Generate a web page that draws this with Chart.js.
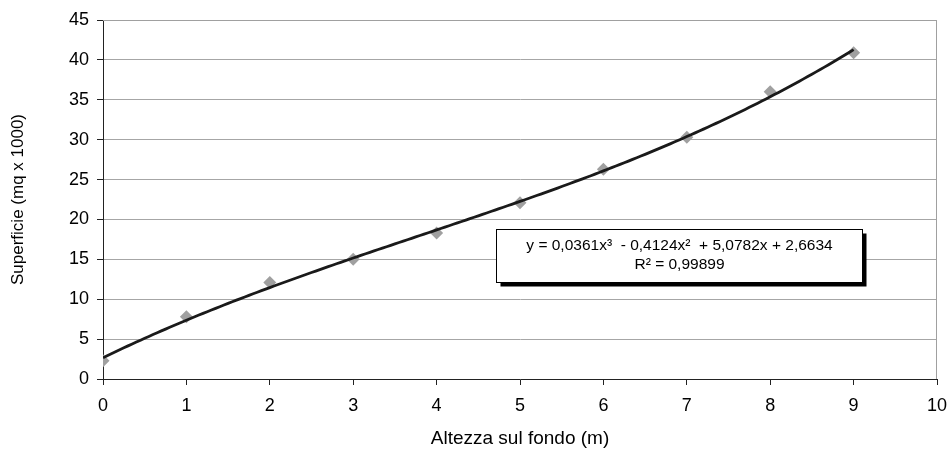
<!DOCTYPE html>
<html>
<head>
<meta charset="utf-8">
<script src="https://cdn.jsdelivr.net/npm/chart.js@4/dist/chart.umd.min.js"></script>
<style>
  html, body { margin: 0; padding: 0; background: #ffffff; }
  #wrap { width: 951px; height: 450px; }
</style>
</head>
<body>
<div id="wrap"><canvas id="c" width="951" height="450"></canvas></div>
<script>
// Measured surface area at each height above the bottom
const heights = [0, 1, 2, 3, 4, 5, 6, 7, 8, 9];
const surface = [2.3, 7.8, 12.1, 15.0, 18.3, 22.1, 26.3, 30.3, 36.0, 40.9];

// Cubic trend line coefficients (x³, x², x, constant) and fit quality
const trendCoeffs = [0.0361, -0.4124, 5.0782, 2.6634];
const rSquared = 0.99899;

// Axis ranges and tick steps
const xTicks = [0, 10, 1];
const yTicks = [0, 45, 5];

const xTitle = 'Altezza sul fondo (m)';
const yTitle = 'Superficie (mq x 1000)';

function trend(x) {
  const [a, b, c, d] = trendCoeffs;
  return ((a * x + b) * x + c) * x + d;
}

// Trend curve sampled across the measured range
const trendPoints = [];
for (let i = 0; i <= 180; i++) {
  const x = heights[0] + (heights[heights.length - 1] - heights[0]) * i / 180;
  trendPoints.push({ x: x, y: trend(x) });
}

const fmt = (v, n) => v.toFixed(n).replace('.', ',');
const eqLine1 = 'y = ' + fmt(trendCoeffs[0], 4) + 'x\u00B3  - ' + fmt(Math.abs(trendCoeffs[1]), 4) +
  'x\u00B2  + ' + fmt(trendCoeffs[2], 4) + 'x + ' + fmt(trendCoeffs[3], 4);
const eqLine2 = 'R\u00B2 = ' + fmt(rSquared, 5);

const FONT = '"Liberation Sans", Arial, sans-serif';

// Frame around the plot area and the equation box with its drop shadow
const decor = {
  id: 'decor',
  beforeDatasetsDraw(chart) {
    const { ctx, chartArea: a } = chart;
    ctx.save();
    ctx.strokeStyle = '#a0a0a0';
    ctx.lineWidth = 1;
    ctx.beginPath();
    ctx.moveTo(a.left, a.top + 0.5);
    ctx.lineTo(a.right - 0.5, a.top + 0.5);
    ctx.lineTo(a.right - 0.5, a.bottom);
    ctx.stroke();
    ctx.restore();
  },
  afterDatasetsDraw(chart) {
    const { ctx, chartArea: a } = chart;
    const w = a.right - a.left, h = a.bottom - a.top;
    const bx = Math.round(a.left + w * 0.4712) + 0.5;
    const by = Math.round(a.top + h * 0.5822) + 0.5;
    const bw = 366, bh = 53;
    ctx.save();
    ctx.fillStyle = '#000000';
    ctx.fillRect(bx + 4, by + 4, bw, bh);
    ctx.fillStyle = '#ffffff';
    ctx.fillRect(bx, by, bw, bh);
    ctx.strokeStyle = '#000000';
    ctx.lineWidth = 1;
    ctx.strokeRect(bx, by, bw, bh);
    ctx.fillStyle = '#000000';
    ctx.font = '15.5px ' + FONT;
    ctx.textAlign = 'center';
    ctx.textBaseline = 'middle';
    ctx.fillText(eqLine1, bx + bw / 2, by + 16);
    ctx.fillText(eqLine2, bx + bw / 2, by + 35);
    ctx.restore();
  }
};

new Chart(document.getElementById('c'), {
  type: 'scatter',
  data: {
    datasets: [
      {
        label: 'Tendenza',
        data: trendPoints,
        showLine: true,
        borderColor: '#1a1a1a',
        borderWidth: 2.8,
        pointRadius: 0,
        fill: false,
        order: 0
      },
      {
        label: 'Superficie',
        data: heights.map((x, i) => ({ x: x, y: surface[i] })),
        pointStyle: 'rectRot',
        pointRadius: 6.5,
        backgroundColor: '#a0a0a0',
        borderColor: '#a0a0a0',
        borderWidth: 0,
        order: 1
      }
    ]
  },
  options: {
    responsive: false,
    animation: false,
    events: [],
    layout: { padding: { top: 20, right: 14, bottom: 0, left: 0 } },
    plugins: { legend: { display: false }, tooltip: { enabled: false } },
    scales: {
      x: {
        type: 'linear',
        min: xTicks[0], max: xTicks[1],
        afterFit(s) { s.height = 71; s.paddingRight = 0; s.paddingLeft = 0; },
        ticks: { stepSize: xTicks[2], color: '#000', font: { family: FONT, size: 18 }, padding: 10 },
        grid: { drawOnChartArea: false, tickLength: 6, tickColor: '#222', color: '#222' },
        border: { color: '#222', width: 1 },
        title: { display: true, text: xTitle, color: '#000', font: { family: FONT, size: 19 }, padding: { top: 8, bottom: 0 } }
      },
      y: {
        min: yTicks[0], max: yTicks[1],
        afterFit(s) { s.width = 103; },
        ticks: { stepSize: yTicks[2], color: '#000', font: { family: FONT, size: 18 }, padding: 8 },
        grid: { color: '#a6a6a6', tickLength: 6, tickColor: '#222', lineWidth: 1 },
        border: { color: '#222', width: 1 },
        title: { display: true, text: yTitle, color: '#000', font: { family: FONT, size: 17 }, padding: { top: 8, bottom: 4 } }
      }
    }
  },
  plugins: [decor]
});
</script>
</body>
</html>
